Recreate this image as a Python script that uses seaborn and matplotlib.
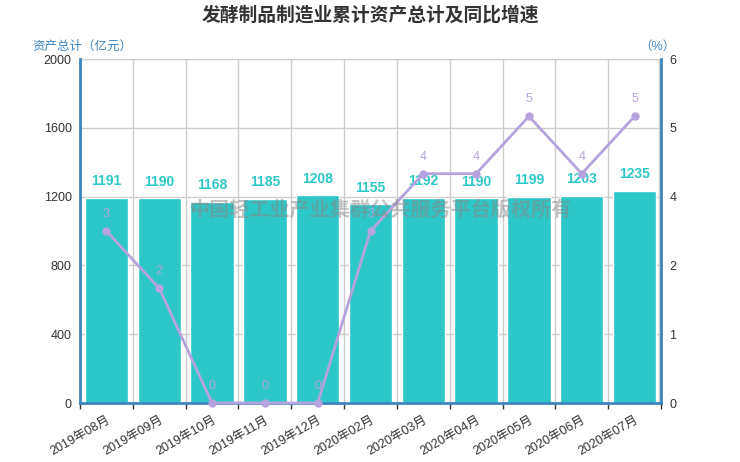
import numpy as np
import pandas as pd
import matplotlib
matplotlib.use('Agg')
import matplotlib.pyplot as plt
import seaborn as sns
from matplotlib.ticker import FuncFormatter

# datos
meses = ['2019年08月', '2019年09月', '2019年10月', '2019年11月', '2019年12月',
         '2020年02月', '2020年03月', '2020年04月', '2020年05月', '2020年06月',
         '2020年07月']
activos = [1191, 1190, 1168, 1185, 1208, 1155, 1192, 1190, 1199, 1203, 1235]
crecimiento = [3, 2, 0, 0, 0, 3, 4, 4, 5, 4, 5]

sns.set_theme(style='white')
plt.rcParams['font.family'] = ['Liberation Sans', 'Noto Sans CJK SC', 'DejaVu Sans']

azul = '#3d85c0'
turquesa = '#2ec7c9'
lila = '#b6a2de'

df = pd.DataFrame({'mes': meses, 'activos': activos, 'crec': crecimiento})

fig = plt.figure(figsize=(7.4, 4.62), dpi=100)
ax = fig.add_axes([80 / 740, 59 / 462, 581 / 740, 344 / 462])

sns.barplot(data=df, x='mes', y='activos', color=turquesa, saturation=1,
            width=0.82, ax=ax, zorder=2)
ax.set_xlim(-0.5, len(meses) - 0.5)
ax.set_ylim(0, 2000)
ax.set_yticks(np.arange(0, 2001, 400))
ax.set_xlabel('')
ax.set_ylabel('')

# rejilla
for y in np.arange(400, 2001, 400):
    ax.axhline(y, color='#cccccc', lw=1, zorder=0)
for xb in np.arange(0.5, len(meses) - 0.5, 1):
    ax.axvline(xb, color='#cccccc', lw=1, zorder=0)
ax.axvline(len(meses) - 0.5 - 0.03, color='#cccccc', lw=1, zorder=0)

for i, v in enumerate(activos):
    ax.annotate(str(v), (i, v), xytext=(0, 7), textcoords='offset points',
                ha='center', va='bottom', color=turquesa, fontsize=10,
                fontweight='bold', zorder=5)

ax.set_xticks(np.arange(len(meses)))
ax.set_xticklabels(meses, rotation=30, ha='right', rotation_mode='anchor',
                   fontsize=9, color='#333333')
ax.tick_params(axis='x', length=0, pad=8)
# marcas en los limites de cada categoria
ax.set_xticks(np.arange(-0.5, len(meses), 1), minor=True)
ax.tick_params(axis='x', which='minor', length=4, color='#333333', width=1,
               direction='out', bottom=True)
ax.tick_params(axis='y', length=0, labelsize=9, labelcolor='#333333', pad=6)

for s in ['top', 'right']:
    ax.spines[s].set_visible(False)
ax.spines['left'].set_color(azul)
ax.spines['left'].set_linewidth(2)
ax.spines['bottom'].set_color(azul)
ax.spines['bottom'].set_linewidth(2)

# eje derecho
ax2 = ax.twinx()
sns.lineplot(x=np.arange(len(meses)), y=crecimiento, ax=ax2, color=lila,
             lw=2, marker='o', markersize=6, markeredgewidth=0, zorder=4)
for ln in ax2.lines:
    ln.set_clip_on(False)
ax2.set_ylim(0, 6)
ax2.set_yticks(np.linspace(0, 6, 6))
ax2.yaxis.set_major_formatter(FuncFormatter(lambda v, p: f'{v:.0f}'))
ax2.tick_params(axis='y', length=0, labelsize=9, labelcolor='#333333', pad=6)
for s in ['top', 'left', 'bottom']:
    ax2.spines[s].set_visible(False)
ax2.spines['right'].set_color(azul)
ax2.spines['right'].set_linewidth(2)
ax2.grid(False)

for i, v in enumerate(crecimiento):
    ax2.annotate(str(v), (i, v), xytext=(0, 8), textcoords='offset points',
                 ha='center', va='bottom', color=lila, fontsize=9, zorder=5)

# marca de agua
fig.text(380 / 740, 1 - 210 / 462, '中国轻工业产业集群公共服务平台版权所有',
         ha='center', va='center', fontsize=14.5, fontweight='bold',
         color='#888888', alpha=0.5, zorder=10)

fig.text(0.5, 1 - 15 / 462, '发酵制品制造业累计资产总计及同比增速', ha='center',
         va='center', fontsize=13.5, fontweight='bold', color='#333333')
fig.text(32 / 740, 1 - 47 / 462, '资产总计（亿元）', ha='left', va='center',
         fontsize=9, color=azul)
fig.text(676 / 740, 1 - 47 / 462, '（%）', ha='right', va='center',
         fontsize=9, color=azul)

fig.savefig('out.png', dpi=100)
